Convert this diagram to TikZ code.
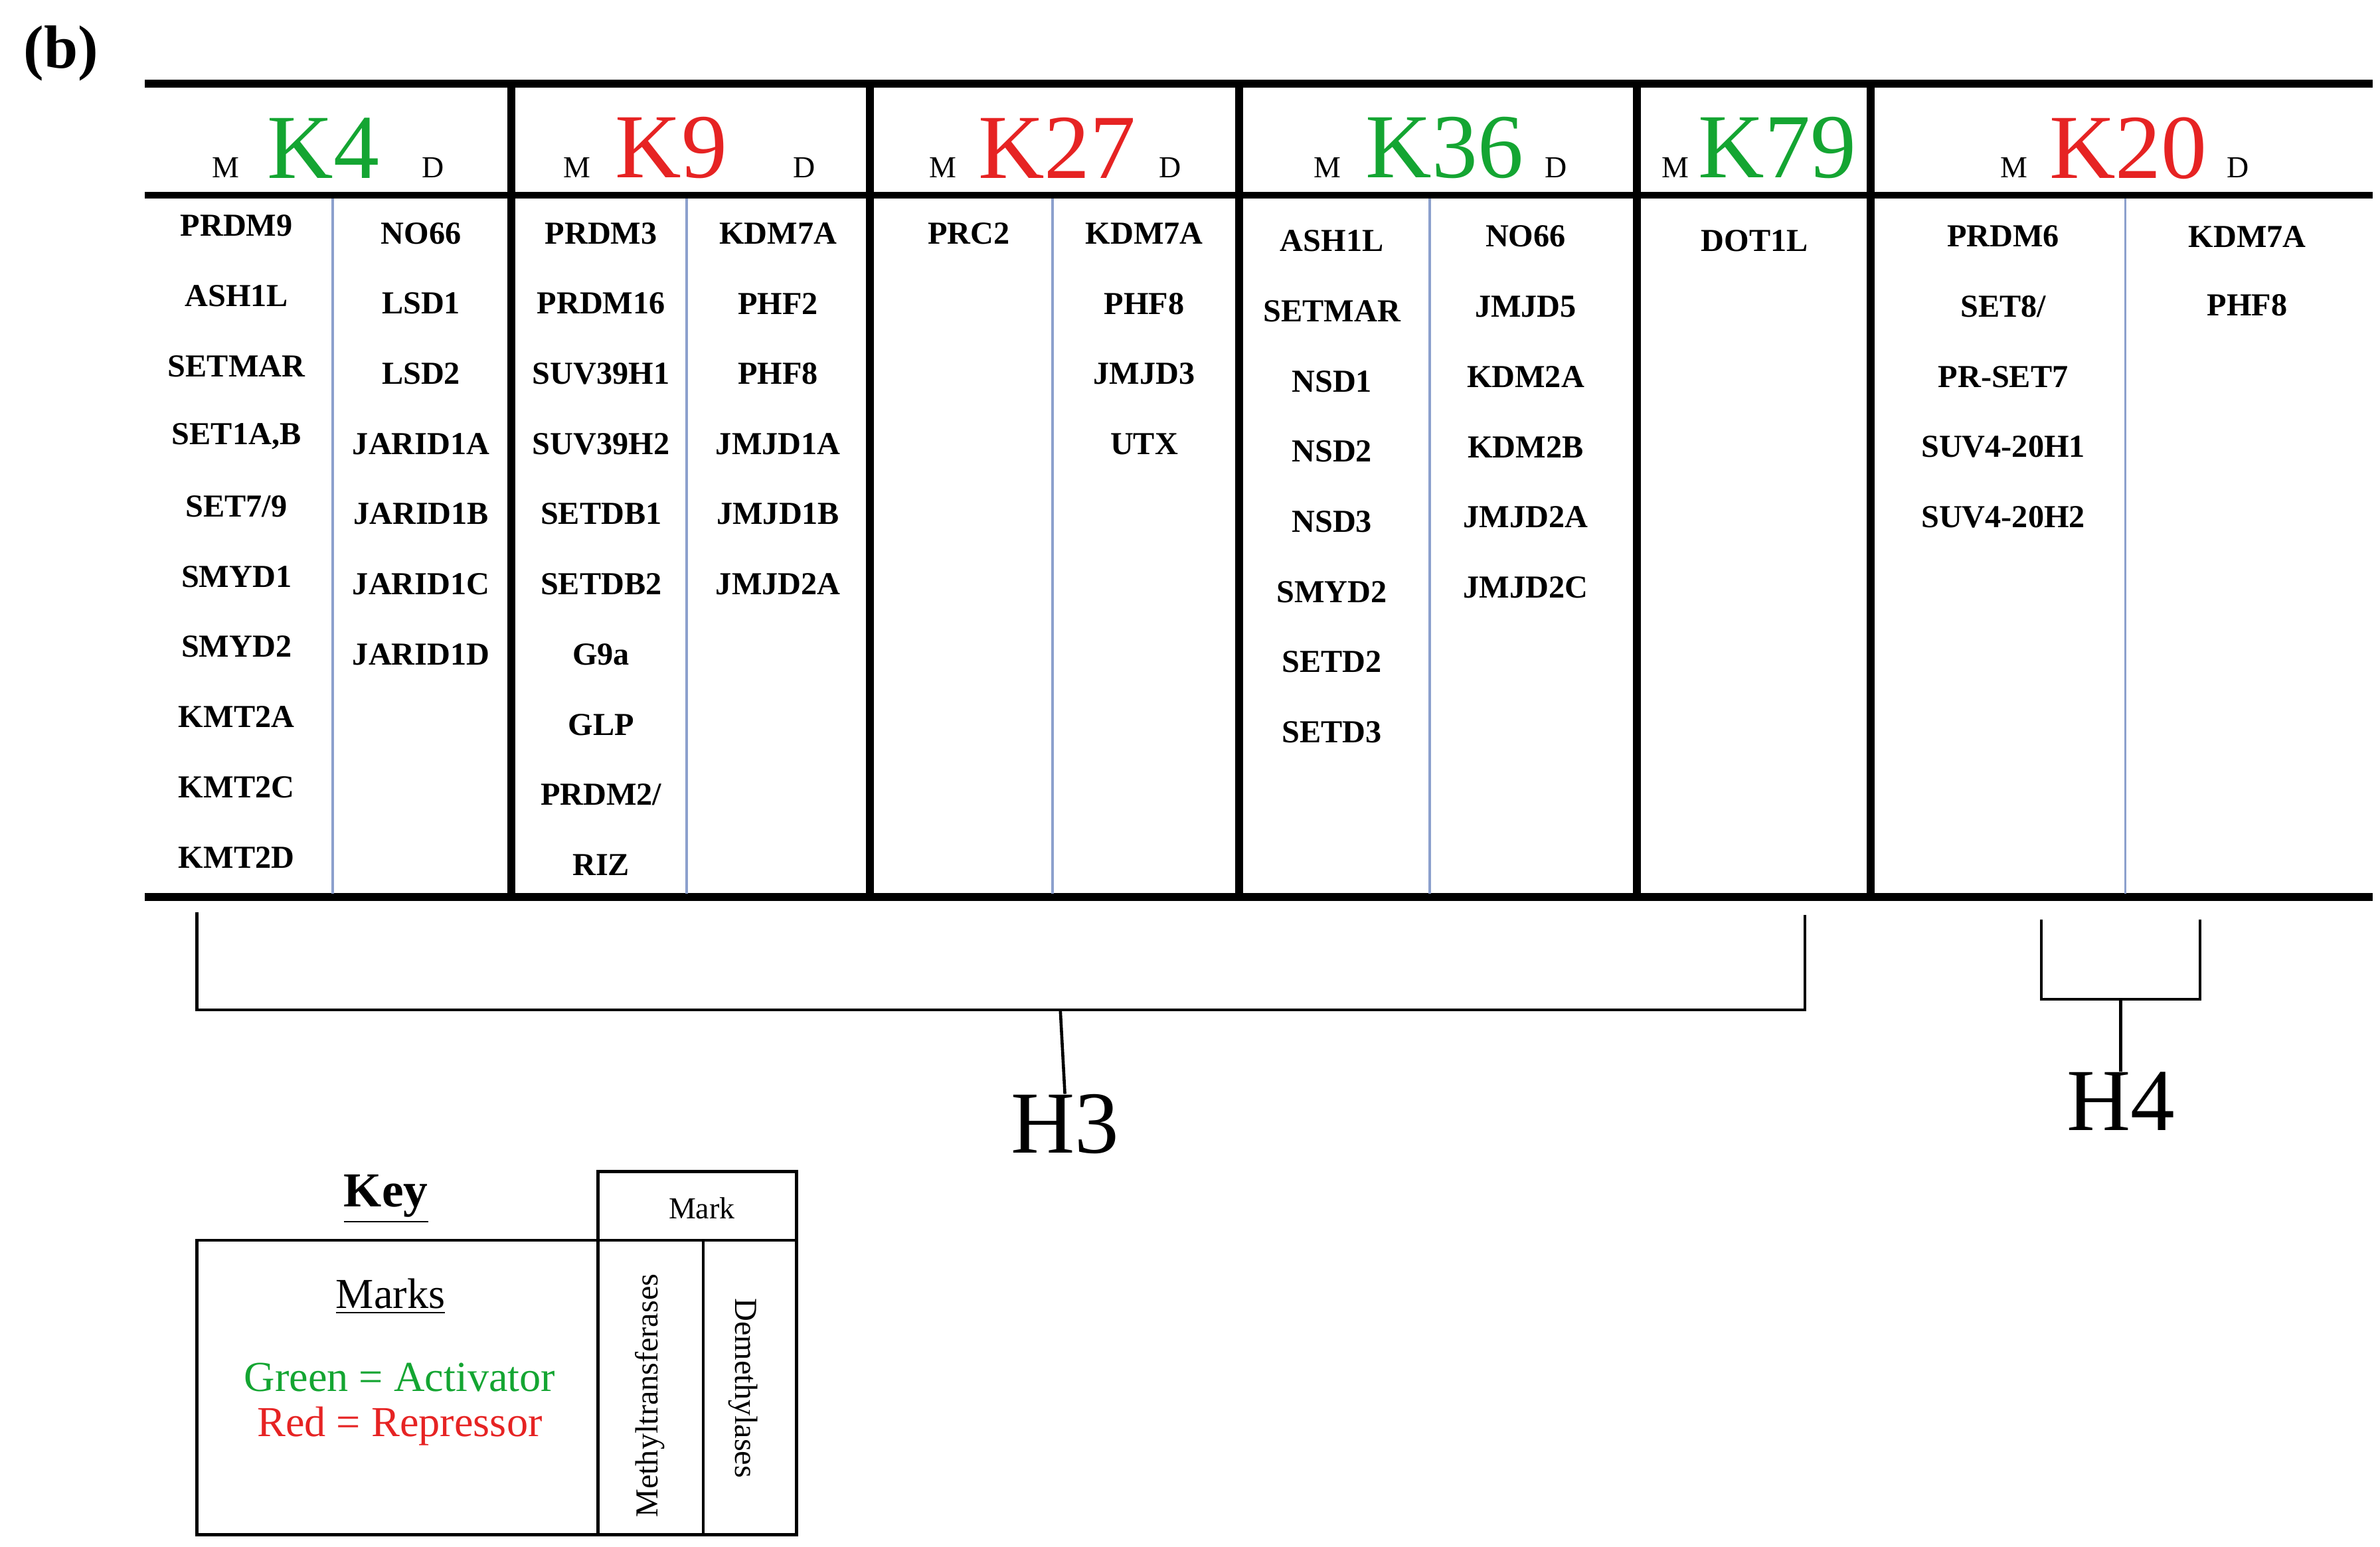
\documentclass[tikz,border=0pt]{standalone}
\usepackage{fontspec}
\setmainfont{Liberation Serif}
\definecolor{kgreen}{RGB}{20,165,50}
\definecolor{kred}{RGB}{230,35,35}
\definecolor{sep}{RGB}{140,160,205}
\begin{document}
\begin{tikzpicture}[x=0.5pt,y=-0.5pt,
 thick line/.style={line width=2.6pt},
 thin sep/.style={draw=sep,line width=0.8pt},
 br/.style={line width=1pt},
 enz/.style={font=\fontsize{10.5}{12}\selectfont\bfseries,inner sep=0pt},
 mk/.style={font=\fontsize{30}{30}\selectfont,inner sep=0pt},
 md/.style={font=\fontsize{10}{10}\selectfont,inner sep=0pt},
 hlab/.style={font=\fontsize{29}{30}\selectfont,inner sep=0pt}]
\useasboundingbox (0,0) rectangle (1560,1014);
\node[font=\fontsize{20}{20}\selectfont\bfseries,inner sep=0pt] (b) at (40,35) {(b)};
% table lines
\draw[thick line] (95,55) -- (1555,55);
\draw[line width=2pt] (95,128) -- (1555,128);
\draw[thick line] (95,588) -- (1555,588);
\foreach \x in {335,570,812,1073,1226} \draw[thick line] (\x,55) -- (\x,588);
\foreach \x in {218,450,690,937,1393} \draw[thin sep] (\x,130) -- (\x,586);
% headers
\foreach \m/\k/\d/\lab/\col/\n in {148/212/284/K4/kgreen/a,378/440/527/K9/kred/b,618/693/767/K27/kred/c,870/947/1020/K36/kgreen/d,1320/1395/1467/K20/kred/f}{
 \node[md] (m\n) at (\m,110) {M};
 \node[mk,text=\col] (k\n) at (\k,97) {\lab};
 \node[md] (d\n) at (\d,110) {D};
}
\node[md] (me) at (1098,110) {M};
\node[mk,text=kgreen] (ke) at (1165,97) {K79};
% lists
\foreach \t [count=\i] in {PRDM9,ASH1L,SETMAR,{SET1A,B},SET7/9,SMYD1,SMYD2,KMT2A,KMT2C,KMT2D}
 \node[enz] (a\i) at (155,{148+46*(\i-1)}) {\t};
\foreach \t [count=\i] in {NO66,LSD1,LSD2,JARID1A,JARID1B,JARID1C,JARID1D}
 \node[enz] (ad\i) at (276,{153+46*(\i-1)}) {\t};
\foreach \t [count=\i] in {PRDM3,PRDM16,SUV39H1,SUV39H2,SETDB1,SETDB2,G9a,GLP,PRDM2/,RIZ}
 \node[enz] (b\i) at (394,{153+46*(\i-1)}) {\t};
\foreach \t [count=\i] in {KDM7A,PHF2,PHF8,JMJD1A,JMJD1B,JMJD2A}
 \node[enz] (bd\i) at (510,{153+46*(\i-1)}) {\t};
\node[enz] (c1) at (635,153) {PRC2};
\foreach \t [count=\i] in {KDM7A,PHF8,JMJD3,UTX}
 \node[enz] (cd\i) at (750,{153+46*(\i-1)}) {\t};
\foreach \t [count=\i] in {ASH1L,SETMAR,NSD1,NSD2,NSD3,SMYD2,SETD2,SETD3}
 \node[enz] (d\i) at (873,{158+46*(\i-1)}) {\t};
\foreach \t [count=\i] in {NO66,JMJD5,KDM2A,KDM2B,JMJD2A,JMJD2C}
 \node[enz] (dd\i) at (1000,{155+46*(\i-1)}) {\t};
\node[enz] (e1) at (1150,158) {DOT1L};
\foreach \t [count=\i] in {PRDM6,SET8/,PR-SET7,SUV4-20H1,SUV4-20H2}
 \node[enz] (f\i) at (1313,{155+46*(\i-1)}) {\t};
\foreach \t [count=\i] in {KDM7A,PHF8}
 \node[enz] (fd\i) at (1473,{155+45*(\i-1)}) {\t};
% brackets
\draw[br] (129,598) -- (129,662) -- (1183,662) -- (1183,600);
\node[hlab] (h3) at (698,737) {H3};
\draw[br] (695,662) -- (h3.north);
\draw[br] (1338,603) -- (1338,655) -- (1442,655) -- (1442,603);
\node[hlab] (h4) at (1390,722) {H4};
\draw[br] (1390,655) -- (h4.north);
% key
\node[font=\fontsize{16}{16}\selectfont\bfseries,inner sep=0pt] (key) at (253,786) {\underline{Key}};
\draw[br] (129,813) rectangle (392,1006);
\draw[br] (392,768) rectangle (522,813);
\draw[br] (392,813) rectangle (461,1006);
\draw[br] (461,813) rectangle (522,1006);
\node[font=\fontsize{10}{10}\selectfont,inner sep=0pt] (mark) at (460,792) {Mark};
\node[font=\fontsize{14}{14}\selectfont,inner sep=0pt] (marks) at (256,850) {\underline{Marks}};
\node[font=\fontsize{14}{14}\selectfont,text=kgreen,inner sep=0pt] (gr) at (262,903) {Green = Activator};
\node[font=\fontsize{14}{14}\selectfont,text=kred,inner sep=0pt] (rd) at (262,935) {Red = Repressor};
\node[font=\fontsize{10.5}{10}\selectfont,rotate=90,inner sep=0pt] (mt) at (426,915) {Methyltransferases};
\node[font=\fontsize{10.5}{10}\selectfont,rotate=-90,inner sep=0pt] (dm) at (487,910) {Demethylases};
\end{tikzpicture}
\end{document}
